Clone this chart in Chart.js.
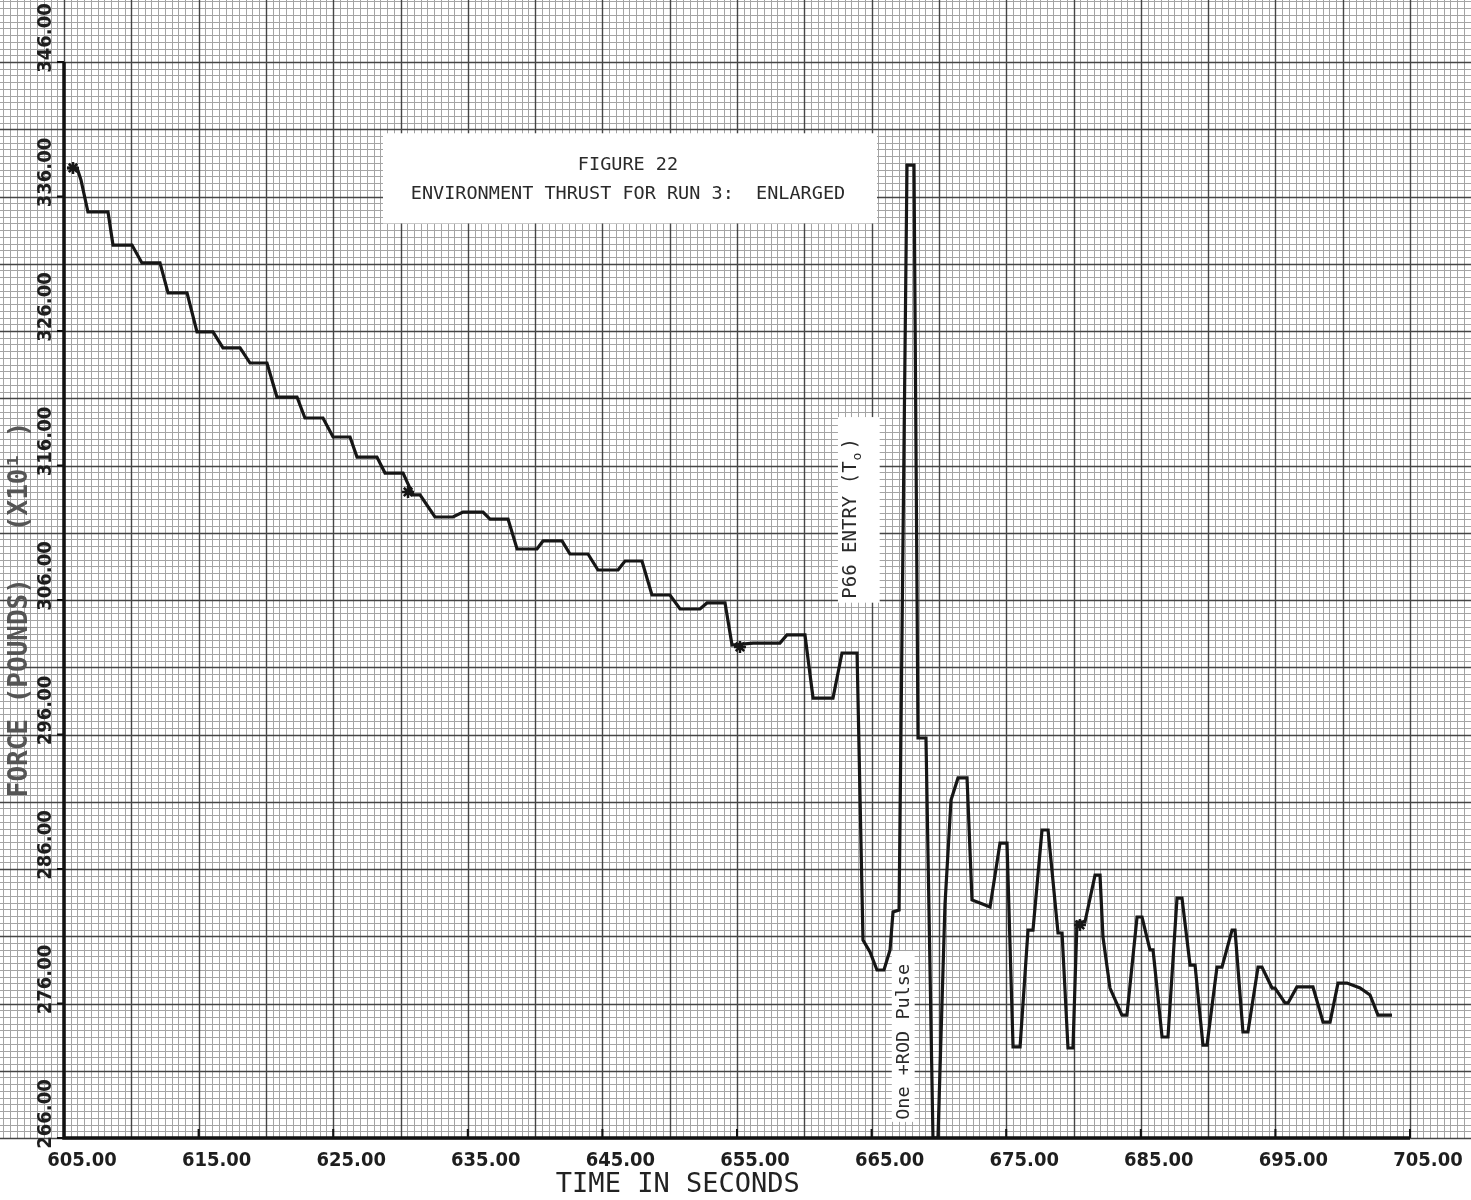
<!DOCTYPE html>
<html><head><meta charset="utf-8">
<script src="https://cdn.jsdelivr.net/npm/chart.js@4.4.1/dist/chart.umd.min.js"></script>
<style>html,body{margin:0;padding:0;background:#fff;} #wrap{width:1471px;height:1200px;position:relative;}</style>
</head><body><div id="wrap"><canvas id="c" width="1471" height="1200"></canvas></div>
<script>
// ---- data (time in seconds, force in pounds x10) ----
const timeSec = [605.22,605.97,606.26,606.78,608.27,608.64,610.05,610.79,612.13,612.73,614.14,614.88,616.07,616.81,618.08,618.82,620.08,620.82,622.31,622.90,624.24,624.99,626.25,626.77,628.25,628.85,630.19,630.93,631.45,632.56,633.90,634.64,636.13,636.65,637.99,638.66,640.14,640.59,642.00,642.59,643.93,644.67,646.16,646.68,647.94,648.68,650.02,650.77,652.25,652.77,654.11,654.63,656.19,658.19,658.71,660.05,660.65,662.13,662.80,663.92,664.36,664.88,665.40,665.92,666.37,666.59,667.04,667.63,668.15,668.45,669.04,669.56,669.93,670.45,670.90,671.42,672.09,672.46,673.05,673.80,674.54,675.06,675.51,676.03,676.62,676.99,677.66,678.11,678.85,679.15,679.59,679.96,680.26,680.85,681.60,681.97,682.19,682.71,683.60,683.97,684.72,685.09,685.68,685.91,686.58,687.02,687.69,688.06,688.66,689.03,689.62,689.92,690.66,691.03,691.78,692.00,692.59,692.96,693.71,694.00,694.75,694.97,695.71,695.94,696.60,697.79,698.54,699.06,699.65,700.32,701.29,702.03,702.62,703.66];
const thrust = [338.12,338.12,337.23,334.85,334.85,332.39,332.39,331.06,331.06,328.83,328.83,325.93,325.93,324.74,324.74,323.62,323.62,321.09,321.09,319.53,319.53,318.12,318.12,316.63,316.63,315.44,315.44,313.81,313.81,312.17,312.17,312.54,312.54,312.02,312.02,309.79,309.79,310.39,310.39,309.42,309.42,308.23,308.23,308.90,308.90,306.37,306.37,305.33,305.33,305.78,305.78,302.65,302.80,302.80,303.40,303.40,298.71,298.71,302.06,302.06,280.72,279.83,278.49,278.49,279.98,282.80,282.95,338.34,338.34,295.74,295.74,266.00,266.00,283.32,291.13,292.77,292.77,283.70,283.47,283.17,287.93,287.93,272.77,272.77,281.46,281.46,288.90,288.90,281.24,281.24,272.69,272.69,282.06,282.06,285.55,285.55,280.94,277.15,275.14,275.14,282.43,282.43,279.98,279.98,273.51,273.51,283.84,283.84,278.86,278.86,272.91,272.91,278.71,278.71,281.46,281.46,273.88,273.88,278.71,278.71,277.15,277.15,276.04,276.04,277.23,277.23,274.62,274.62,277.52,277.52,277.15,276.63,275.14,275.14];
const markerTime = [605.67,630.56,655.22,680.48];
const markerThrust = [338.12,314.03,302.51,281.84];
const xTicks = [605,615,625,635,645,655,665,675,685,695,705];
const yTicks = [266,276,286,296,306,316,326,336,346];
const titleLines = ["FIGURE 22", "ENVIRONMENT THRUST FOR RUN 3:  ENLARGED"];
const xAxisTitle = "TIME IN SECONDS";
const yAxisTitle = "FORCE (POUNDS)   (X10\u00B9 )";
const p66Text = ["P66 ENTRY (T", "o", ")"];
const rodText = "One +ROD Pulse";

// ---- fonts ----
function hasFont(name){
  const c=document.createElement('canvas').getContext('2d');
  const s='605.00 WIDTH Test';
  c.font='40px monospace'; const a=c.measureText(s).width;
  c.font="40px '"+name+"', monospace"; const b=c.measureText(s).width;
  return Math.abs(a-b)>0.5;
}
const narrow = hasFont('Liberation Sans Narrow');
const tickFamily = narrow ? "'Liberation Sans Narrow'" : "'DejaVu Sans Condensed', 'DejaVu Sans'";
const tickSize = narrow ? 25 : 20;
const monoFamily = "'DejaVu Sans Mono', 'Liberation Mono', monospace";

// ---- layout helpers (in data units) ----
const ann = {
  titleBox: {x0:628.7, x1:665.4, y0:340.7, y1:334.0},
  titleX: 646.9, titleY: [338.3, 336.2],
  p66Box: {x0:662.5, x1:665.6, y0:319.6, y1:305.8},
  p66Anchor: {x:663.5, y:306.1},
  rodBox: {x0:666.5, x1:668.2, y0:279.9, y1:267.2},
  rodAnchor: {x:667.4, y:267.35},
  yTitle: {x:601.75, y:305.3},
  xTitle: {x:650.6, y:262.5}
};

const paper = {
  id:'paper',
  beforeDraw(chart){
    const {ctx, scales:{x,y}} = chart;
    const W = chart.width;
    ctx.save();
    ctx.fillStyle='#fff'; ctx.fillRect(0,0,W,chart.height);
    const gridBottom = y.getPixelForValue(266)+1;
    const xa = x.getValueForPixel(0), xb = x.getValueForPixel(W);
    const ya = y.getValueForPixel(0);
    for (let pass=0; pass<2; pass++){
      ctx.strokeStyle = pass===0 ? '#a4a4a4' : '#454545';
      ctx.lineWidth = pass===0 ? 1 : 1.4;
      ctx.beginPath();
      for (let k=Math.ceil(xa*2); k<=Math.floor(xb*2); k++){
        const major = (k % 10)===0;
        if ((pass===1)!==major) continue;
        const px = Math.round(x.getPixelForValue(k/2))+0.5;
        ctx.moveTo(px,0); ctx.lineTo(px,gridBottom);
      }
      for (let k=532; k<=Math.floor(ya*2); k++){
        const major = ((k-532) % 10)===0;
        if ((pass===1)!==major) continue;
        const py = Math.round(y.getPixelForValue(k/2))+0.5;
        ctx.moveTo(0,py); ctx.lineTo(W,py);
      }
      ctx.stroke();
    }
    ctx.restore();
  },
  beforeDatasetsDraw(chart){
    const {ctx, scales:{x,y}} = chart;
    const box = (b)=>{
      const X0=x.getPixelForValue(b.x0), X1=x.getPixelForValue(b.x1);
      const Y0=y.getPixelForValue(b.y0), Y1=y.getPixelForValue(b.y1);
      ctx.fillStyle='#fff'; ctx.fillRect(X0,Y0,X1-X0,Y1-Y0);
    };
    ctx.save();
    box(ann.titleBox); box(ann.p66Box); box(ann.rodBox);
    ctx.fillStyle='#2a2a2a';
    ctx.font = "18.5px "+monoFamily;
    ctx.textAlign='center'; ctx.textBaseline='middle';
    titleLines.forEach((t,i)=>ctx.fillText(t, x.getPixelForValue(ann.titleX), y.getPixelForValue(ann.titleY[i])));
    ctx.save();
    ctx.translate(x.getPixelForValue(ann.p66Anchor.x), y.getPixelForValue(ann.p66Anchor.y));
    ctx.rotate(-Math.PI/2);
    ctx.textAlign='left'; ctx.textBaseline='middle';
    ctx.font = "19px "+monoFamily;
    let w = ctx.measureText(p66Text[0]).width;
    ctx.fillText(p66Text[0],0,0);
    ctx.font = "13px "+monoFamily;
    ctx.fillText(p66Text[1],w+1,6);
    const w2 = ctx.measureText(p66Text[1]).width;
    ctx.font = "19px "+monoFamily;
    ctx.fillText(p66Text[2],w+w2+4,0);
    ctx.restore();
    ctx.save();
    ctx.translate(x.getPixelForValue(ann.rodAnchor.x), y.getPixelForValue(ann.rodAnchor.y));
    ctx.rotate(-Math.PI/2);
    ctx.textAlign='left'; ctx.textBaseline='middle';
    ctx.font = "18.5px "+monoFamily;
    ctx.fillText(rodText,0,0);
    ctx.restore();
    ctx.restore();
  },
  afterDraw(chart){
    const {ctx, scales:{x,y}} = chart;
    const L = x.getPixelForValue(605), B = y.getPixelForValue(266);
    ctx.save();
    ctx.strokeStyle='#111'; ctx.lineWidth=3.5;
    ctx.beginPath();
    ctx.moveTo(L, y.getPixelForValue(346)); ctx.lineTo(L, B);
    ctx.lineTo(x.getPixelForValue(705), B);
    ctx.stroke();
    ctx.lineWidth=2;
    ctx.beginPath();
    yTicks.forEach(v=>{const py=y.getPixelForValue(v); ctx.moveTo(L-7,py); ctx.lineTo(L,py);});
    xTicks.forEach(v=>{const px=x.getPixelForValue(v); ctx.moveTo(px,B); ctx.lineTo(px,B-9);});
    ctx.stroke();
    ctx.fillStyle='#222';
    ctx.font = "27px "+monoFamily;
    ctx.textAlign='center'; ctx.textBaseline='middle';
    ctx.fillText(xAxisTitle, x.getPixelForValue(ann.xTitle.x), y.getPixelForValue(ann.xTitle.y));
    ctx.save();
    ctx.translate(x.getPixelForValue(ann.yTitle.x), y.getPixelForValue(ann.yTitle.y));
    ctx.rotate(-Math.PI/2);
    ctx.fillStyle='#555';
    ctx.font = "bold 26px "+monoFamily;
    ctx.fillText(yAxisTitle,0,0);
    ctx.restore();
    ctx.restore();
  }
};

const tickFont = {family: tickFamily, size: tickSize, weight: 'bold'};
const measure = (()=>{const c=document.createElement('canvas').getContext('2d'); c.font='bold '+tickSize+'px '+tickFamily; return c.measureText('346.00').width;})();

new Chart(document.getElementById('c'), {
  type: 'line',
  data: {
    datasets: [
      {data: timeSec.map((t,i)=>({x:t, y:thrust[i]})), borderColor:'#161616', borderWidth:3.2, pointRadius:0, tension:0, fill:false},
      {data: markerTime.map((t,i)=>({x:t, y:markerThrust[i]})), showLine:false, pointStyle:'star', pointRadius:6, borderColor:'#161616', borderWidth:2.5}
    ]
  },
  options: {
    responsive:false, animation:false, devicePixelRatio:1,
    layout:{padding:{top:62, right:61, left:0, bottom:0}},
    plugins:{legend:{display:false}, tooltip:{enabled:false}},
    scales:{
      x:{type:'linear', min:605, max:705,
        afterBuildTicks:(s)=>{s.ticks = xTicks.map(v=>({value:v}));},
        afterFit:(s)=>{s.height=62;},
        grid:{display:false, drawTicks:false}, border:{display:false},
        ticks:{font:tickFont, color:'#1e1e1e', padding:11, labelOffset:18, maxRotation:0, autoSkip:false,
          callback:(v)=>Number(v).toFixed(2)}
      },
      y:{type:'linear', min:266, max:346,
        afterBuildTicks:(s)=>{s.ticks = yTicks.map(v=>({value:v}));},
        afterFit:(s)=>{s.width=64;},
        grid:{display:false, drawTicks:false}, border:{display:false},
        ticks:{font:tickFont, color:'#1e1e1e', padding:18, minRotation:90, maxRotation:90, labelOffset:-24-measure/2, autoSkip:false,
          callback:(v)=>Number(v).toFixed(2)}
      }
    }
  },
  plugins:[paper]
});
</script></body></html>
